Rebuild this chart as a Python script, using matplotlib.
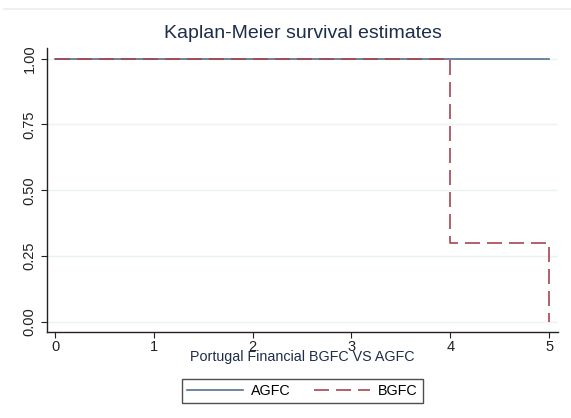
import matplotlib.pyplot as plt

# survival step data
agfc_time = [0, 5]
agfc_surv = [1.0, 1.0]
bgfc_time = [0, 4, 5]
bgfc_surv = [1.0, 0.30, 0.0]

x_ticks = [0, 1, 2, 3, 4, 5]
y_ticks = [0.00, 0.25, 0.50, 0.75, 1.00]

plt.rcParams['font.family'] = ['Liberation Sans', 'DejaVu Sans']

fig = plt.figure(figsize=(5.71, 4.18), dpi=100)
ax = fig.add_axes([47 / 571, 1 - 332 / 418, (558 - 47) / 571, (332 - 48) / 418])

# faint outer frame line at top
fig.add_artist(plt.Line2D([4 / 571, 1.0], [1 - 9 / 418, 1 - 9 / 418], color='#e8eef2', lw=1.2))

for y in y_ticks:
    ax.axhline(y, color='#eaf2f3', lw=1.0, zorder=0)

ax.step(agfc_time, agfc_surv, where='post', color='#54718f', lw=1.2, label='AGFC', zorder=2)
ax.step(bgfc_time, bgfc_surv, where='post', color='#a84450', lw=1.2,
        dashes=(9, 4.2), label='BGFC', zorder=3)

ax.set_xlim(-0.081, 5.09)
ax.set_ylim(-0.038, 1.04)
ax.set_xticks(x_ticks)
ax.set_yticks(y_ticks)
ax.set_yticklabels([f'{v:.2f}' for v in y_ticks], rotation=90, va='center')
ax.tick_params(axis='both', labelsize=10.5, colors='#222222', length=4, width=0.8)
ax.tick_params(axis='x', pad=2)

for s in ['top', 'right']:
    ax.spines[s].set_visible(False)
for s in ['left', 'bottom']:
    ax.spines[s].set_linewidth(1.0)
    ax.spines[s].set_color('#222222')

ax.set_title('Kaplan-Meier survival estimates', fontsize=14, color='#1e2d4a', pad=7)
ax.set_xlabel('Portugal Financial BGFC VS AGFC', fontsize=10.3, color='#1e2d4a', labelpad=-3)

leg = ax.legend(loc='upper center', bbox_to_anchor=(0.5, -0.14), ncol=2, frameon=True,
                fancybox=False, edgecolor='#222222', fontsize=10.3, handlelength=3.9,
                columnspacing=1.6, borderpad=0.35, handletextpad=0.6)
leg.get_frame().set_linewidth(1.0)

fig.savefig('out.png', dpi=100, facecolor='white')
